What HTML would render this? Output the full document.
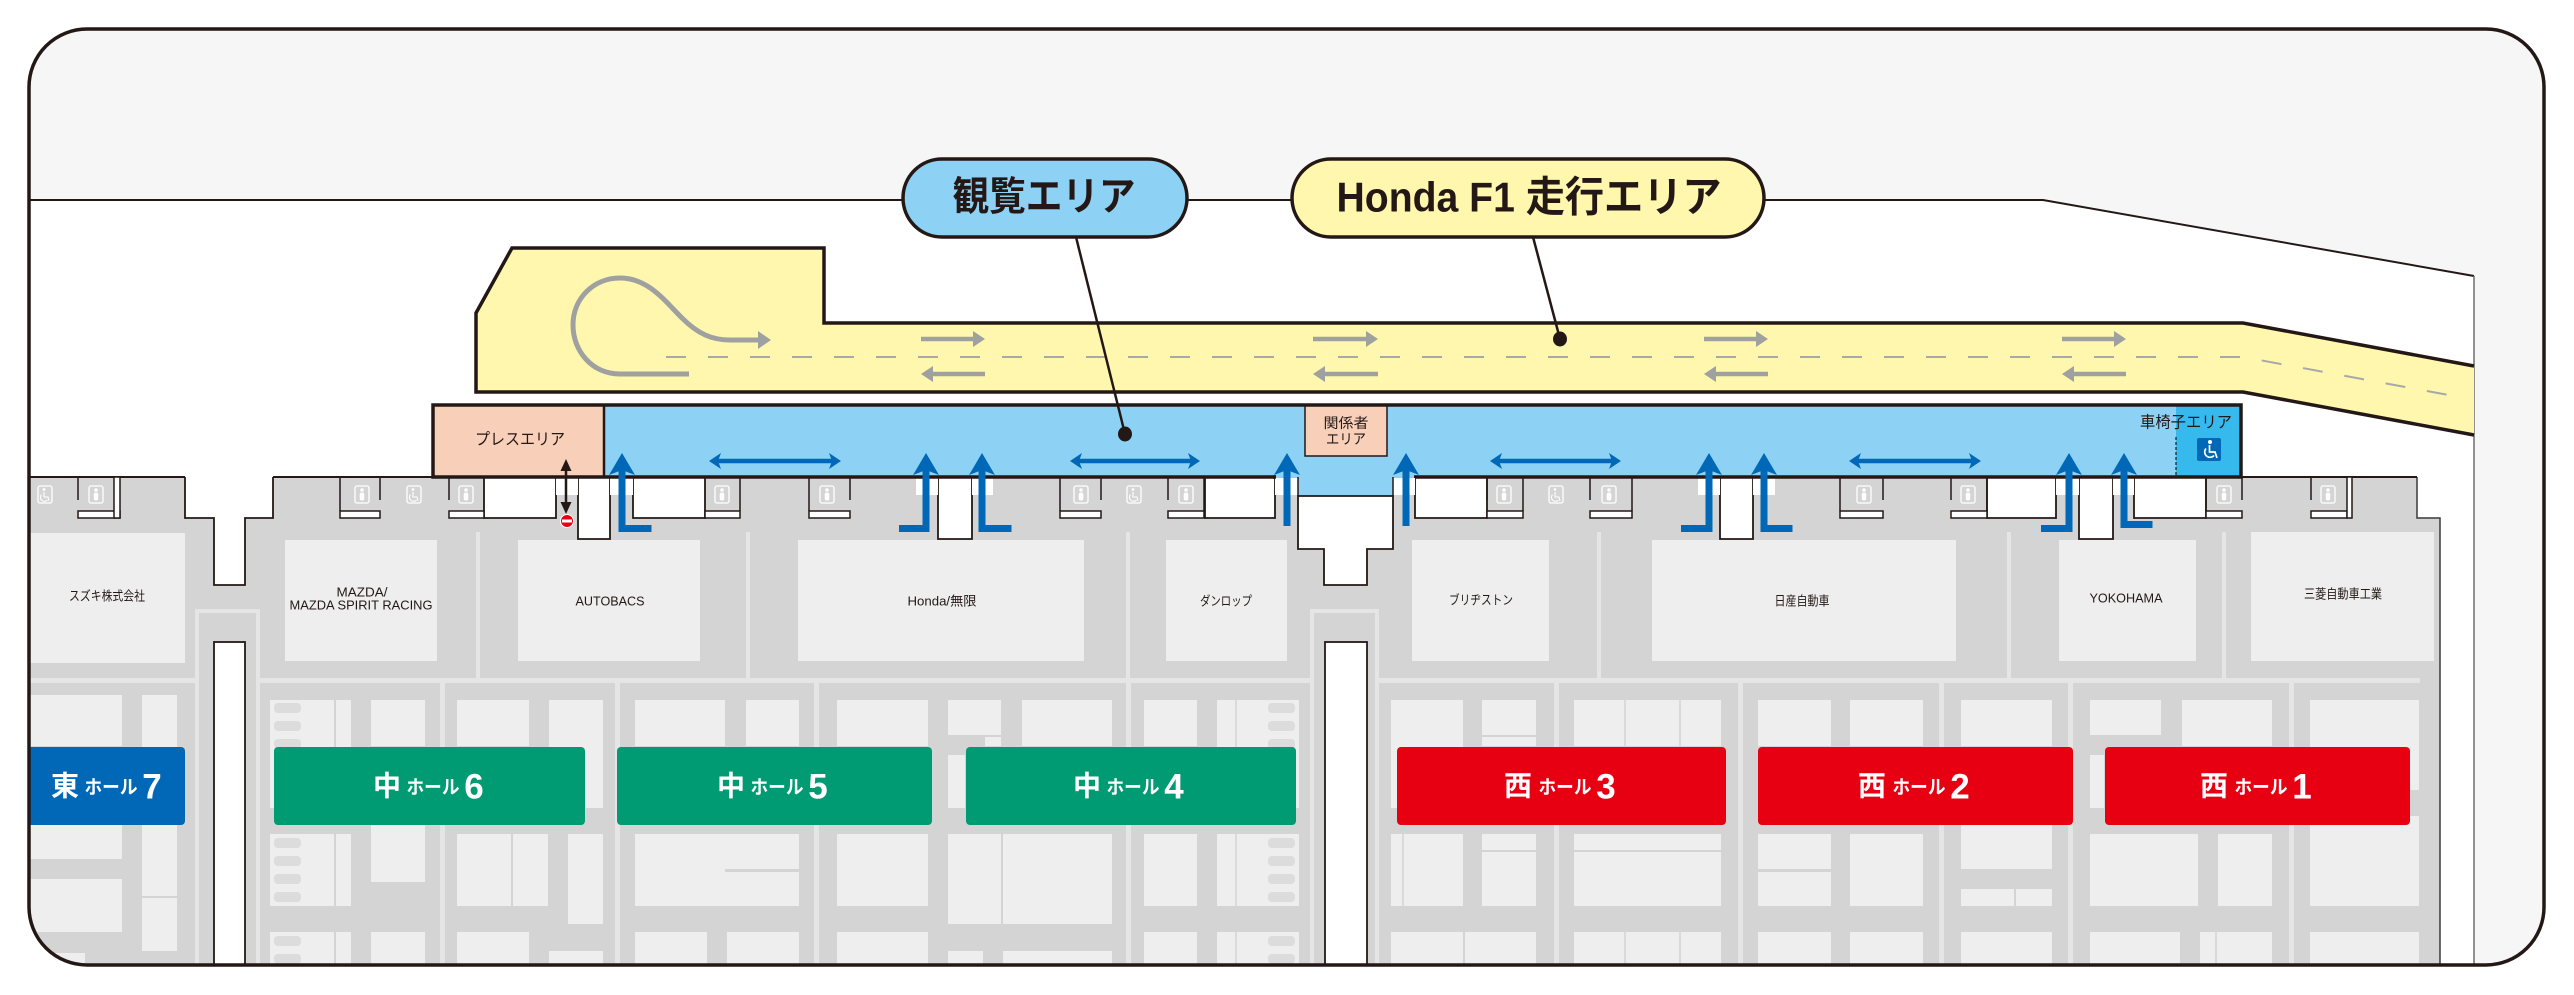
<!DOCTYPE html>
<html><head><meta charset="utf-8">
<style>
html,body{margin:0;padding:0;background:#fff;}
svg{display:block;}
text{font-family:"Liberation Sans","Noto Sans CJK JP",sans-serif;}
</style></head><body>
<svg width="2574" height="995" viewBox="0 0 2574 995" xmlns="http://www.w3.org/2000/svg">
<defs>
<clipPath id="fr"><rect x="29" y="29" width="2515" height="936" rx="58"/></clipPath>
</defs>
<g clip-path="url(#fr)">
<rect x="0" y="0" width="2574" height="995" fill="#f6f6f6"/>
<polygon points="0,200 2043,200 2474,276 2474,995 0,995" fill="#ffffff"/>
<polyline points="0,200 2043,200 2474,276" fill="none" stroke="#231815" stroke-width="2"/>
<line x1="2474" y1="276" x2="2474" y2="965" stroke="#6f6f6f" stroke-width="1.5"/>

<!-- F1 track -->
<polygon points="476,392 476,313 512,248 824,248 824,323 2243,323 2474,366 2474,435 2243,392" fill="#fff7ae"/>
<polyline points="2474,366 2243,323 824,323 824,248 512,248 476,313 476,392 2243,392 2474,435" fill="none" stroke="#231815" stroke-width="3.5" stroke-linejoin="miter"/>
<polyline points="666,357 2243,357 2465,398" fill="none" stroke="#a8a8a8" stroke-width="2" stroke-dasharray="20 22"/>
<g fill="none" stroke="#9fa0a0" stroke-width="5">
<path d="M689,374 L620,374 C592,374 573,351 573,325 C573,298 594,278 620,278 C648,278 664,300 682,318 C698,334 712,340 730,340 L760,340"/>
</g>
<polygon points="771,340 758,331 758,349" fill="#9fa0a0"/>
<g stroke="#9fa0a0" stroke-width="4.5">
<line x1="921" y1="339" x2="975" y2="339"/><line x1="1313" y1="339" x2="1368" y2="339"/>
<line x1="1704" y1="339" x2="1758" y2="339"/><line x1="2062" y1="339" x2="2116" y2="339"/>
<line x1="931" y1="374" x2="985" y2="374"/><line x1="1323" y1="374" x2="1378" y2="374"/>
<line x1="1714" y1="374" x2="1768" y2="374"/><line x1="2072" y1="374" x2="2126" y2="374"/>
</g>
<g fill="#9fa0a0">
<polygon points="985,339 973,331 973,347"/><polygon points="1378,339 1366,331 1366,347"/>
<polygon points="1768,339 1756,331 1756,347"/><polygon points="2126,339 2114,331 2114,347"/>
<polygon points="921,374 933,366 933,382"/><polygon points="1313,374 1325,366 1325,382"/>
<polygon points="1704,374 1716,366 1716,382"/><polygon points="2062,374 2074,366 2074,382"/>
</g>

<!-- Hall gray region -->
<polygon points="0,477 2417,477 2417,518 2440,518 2440,995 0,995" fill="#d4d4d5"/>
<polyline points="2417,477 2417,518 2440,518 2440,965" fill="none" stroke="#3a3a3a" stroke-width="1.5"/>
<g stroke="#231815" stroke-width="2">
<line x1="0" y1="477" x2="185" y2="477"/><line x1="273" y1="477" x2="433" y2="477"/><line x1="2241" y1="477" x2="2417" y2="477"/>
</g>

<!-- upper booths -->
<g fill="#eeeeee">
<rect x="20" y="533" width="165" height="130"/>
<rect x="285" y="540" width="152" height="121"/>
<rect x="518" y="540" width="182" height="121"/>
<rect x="798" y="540" width="286" height="121"/>
<rect x="1166" y="540" width="121" height="121"/>
<rect x="1412" y="540" width="137" height="121"/>
<rect x="1652" y="540" width="304" height="121"/>
<rect x="2059" y="540" width="137" height="121"/>
<rect x="2251" y="532" width="183" height="129"/>
</g>
<g fill="#e5e5e5">
<rect x="476" y="532" width="4" height="150"/><rect x="746" y="532" width="4" height="150"/>
<rect x="1126" y="532" width="4" height="150"/><rect x="1597" y="532" width="4" height="150"/>
<rect x="2007" y="532" width="4" height="150"/><rect x="2222" y="532" width="4" height="150"/>
<rect x="20" y="678" width="2400" height="5"/>
<rect x="440" y="683" width="5" height="290"/><rect x="615" y="683" width="5" height="290"/>
<rect x="814" y="683" width="5" height="290"/><rect x="1126" y="683" width="5" height="290"/>
<rect x="1554" y="683" width="5" height="290"/><rect x="1738" y="683" width="5" height="290"/>
<rect x="1939" y="683" width="5" height="290"/><rect x="2068" y="683" width="5" height="290"/>
<rect x="2289" y="683" width="5" height="290"/>
</g>

<!-- lower booths -->
<g fill="#eeeeee">
<rect x="20" y="695" width="102" height="51"/><rect x="142" y="695" width="35" height="201"/>
<rect x="20" y="825" width="102" height="34"/><rect x="20" y="879" width="102" height="53"/>
<rect x="142" y="898" width="35" height="53"/><rect x="20" y="953" width="65" height="20"/>

<rect x="270" y="700" width="64" height="108"/><rect x="270" y="834" width="64" height="72"/><rect x="270" y="932" width="64" height="40"/>
<rect x="336" y="700" width="15" height="108"/><rect x="336" y="834" width="15" height="72"/><rect x="336" y="932" width="15" height="40"/>
<rect x="371" y="700" width="54" height="46"/><rect x="371" y="825" width="54" height="57"/><rect x="371" y="932" width="54" height="40"/>
<rect x="457" y="700" width="72" height="46"/><rect x="457" y="834" width="54" height="72"/><rect x="513" y="834" width="35" height="72"/><rect x="457" y="932" width="72" height="40"/>
<rect x="549" y="700" width="54" height="108"/><rect x="568" y="834" width="35" height="90"/><rect x="549" y="951" width="54" height="20"/>

<rect x="635" y="700" width="90" height="46"/><rect x="635" y="834" width="90" height="72"/><rect x="635" y="932" width="72" height="40"/>
<rect x="746" y="700" width="53" height="46"/><rect x="709" y="834" width="90" height="35"/><rect x="709" y="872" width="90" height="34"/><rect x="727" y="932" width="72" height="40"/>
<rect x="837" y="700" width="91" height="46"/><rect x="837" y="834" width="91" height="72"/><rect x="837" y="932" width="91" height="40"/>
<rect x="948" y="700" width="53" height="35"/><rect x="985" y="737" width="16" height="9"/><rect x="948" y="755" width="17" height="53"/>
<rect x="948" y="834" width="53" height="90"/><rect x="1003" y="834" width="109" height="90"/>
<rect x="948" y="951" width="35" height="20"/><rect x="1003" y="951" width="109" height="20"/>
<rect x="1022" y="700" width="90" height="46"/>

<rect x="1144" y="700" width="53" height="46"/><rect x="1144" y="834" width="53" height="72"/><rect x="1144" y="932" width="53" height="40"/>
<rect x="1217" y="700" width="82" height="108"/><rect x="1217" y="834" width="82" height="72"/><rect x="1217" y="932" width="82" height="40"/>

<rect x="1391" y="700" width="72" height="108"/><rect x="1482" y="700" width="54" height="35"/><rect x="1482" y="737" width="54" height="9"/>
<rect x="1391" y="834" width="72" height="72"/><rect x="1482" y="834" width="54" height="16"/><rect x="1482" y="852" width="54" height="54"/>
<rect x="1391" y="932" width="72" height="40"/><rect x="1465" y="932" width="71" height="40"/>

<rect x="1574" y="700" width="147" height="46"/><rect x="1574" y="834" width="147" height="16"/><rect x="1574" y="852" width="147" height="54"/><rect x="1574" y="932" width="147" height="40"/>

<rect x="1758" y="700" width="73" height="46"/><rect x="1758" y="834" width="73" height="35"/><rect x="1758" y="872" width="73" height="34"/><rect x="1758" y="932" width="73" height="40"/>
<rect x="1850" y="700" width="73" height="46"/><rect x="1850" y="834" width="73" height="72"/><rect x="1850" y="932" width="73" height="40"/>
<rect x="1961" y="700" width="91" height="46"/><rect x="1961" y="825" width="91" height="44"/><rect x="1961" y="889" width="53" height="17"/><rect x="2016" y="889" width="36" height="17"/><rect x="1961" y="932" width="91" height="40"/>

<rect x="2090" y="700" width="71" height="35"/><rect x="2090" y="755" width="14" height="53"/><rect x="2090" y="834" width="108" height="72"/><rect x="2090" y="932" width="90" height="40"/>
<rect x="2182" y="700" width="90" height="46"/><rect x="2218" y="834" width="54" height="72"/><rect x="2200" y="932" width="72" height="40"/>
<rect x="2310" y="700" width="109" height="90"/><rect x="2310" y="816" width="109" height="90"/><rect x="2310" y="932" width="109" height="40"/>
</g>
<g fill="#dcdcdc">
<rect x="274" y="703" width="27" height="10" rx="4"/><rect x="274" y="721" width="27" height="10" rx="4"/><rect x="274" y="739" width="27" height="10" rx="4"/>
<rect x="274" y="838" width="27" height="10" rx="4"/><rect x="274" y="856" width="27" height="10" rx="4"/><rect x="274" y="874" width="27" height="10" rx="4"/><rect x="274" y="892" width="27" height="10" rx="4"/>
<rect x="274" y="936" width="27" height="10" rx="4"/><rect x="274" y="954" width="27" height="10" rx="4"/>
<rect x="1268" y="703" width="27" height="10" rx="4"/><rect x="1268" y="721" width="27" height="10" rx="4"/><rect x="1268" y="739" width="27" height="10" rx="4"/>
<rect x="1268" y="838" width="27" height="10" rx="4"/><rect x="1268" y="856" width="27" height="10" rx="4"/><rect x="1268" y="874" width="27" height="10" rx="4"/><rect x="1268" y="892" width="27" height="10" rx="4"/>
<rect x="1268" y="936" width="27" height="10" rx="4"/><rect x="1268" y="954" width="27" height="10" rx="4"/>
</g>
<g stroke="#d4d4d5" stroke-width="1.5">
<line x1="1625" y1="700" x2="1625" y2="746"/><line x1="1680" y1="700" x2="1680" y2="746"/>
<line x1="1625" y1="932" x2="1625" y2="972"/><line x1="1680" y1="932" x2="1680" y2="972"/>
<line x1="1403" y1="834" x2="1403" y2="906"/><line x1="1236" y1="700" x2="1236" y2="972"/>
<line x1="2216" y1="932" x2="2216" y2="972"/>
</g>

<!-- corridors -->
<rect x="197" y="611" width="61" height="370" fill="#d4d4d5" stroke="#e5e5e5" stroke-width="4"/>
<rect x="214" y="642" width="31" height="340" fill="#ffffff" stroke="#231815" stroke-width="1.8"/>
<rect x="1312" y="611" width="65" height="370" fill="#d4d4d5" stroke="#e5e5e5" stroke-width="4"/>
<rect x="1325" y="642" width="42" height="340" fill="#ffffff" stroke="#231815" stroke-width="1.8"/>

<!-- facade white openings -->
<g fill="#ffffff" stroke="#231815" stroke-width="1.8">
<polyline points="185,477 185,518 214,518 214,585 245,585 245,518 273,518 273,477"/>
<polyline points="484,477 484,518 556,518 556,477"/>
<polyline points="578,477 578,539 610,539 610,477"/>
<polyline points="633,477 633,518 705,518 705,477"/>
<polyline points="938,477 938,539 972,539 972,477"/>
<polyline points="1205,477 1205,518 1275,518 1275,477"/>
<polyline points="1415,477 1415,518 1487,518 1487,477"/>
<polyline points="1720,477 1720,539 1753,539 1753,477"/>
<polyline points="1987,477 1987,518 2056,518 2056,477"/>
<polyline points="2079,477 2079,539 2113,539 2113,477"/>
<polyline points="2134,477 2134,518 2206,518 2206,477"/>
</g>
<g fill="#ffffff">
<rect x="556" y="478" width="22" height="17"/><rect x="610" y="478" width="23" height="17"/>
<rect x="916" y="478" width="22" height="17"/><rect x="972" y="478" width="21" height="17"/>
<rect x="1275" y="478" width="23" height="17"/><rect x="1393" y="478" width="22" height="17"/>
<rect x="1698" y="478" width="22" height="17"/><rect x="1753" y="478" width="22" height="17"/>
<rect x="2056" y="478" width="23" height="17"/><rect x="2113" y="478" width="21" height="17"/>
</g>
<!-- toilets strips -->
<g fill="#ffffff" stroke="#231815" stroke-width="1.5">
<rect x="78" y="511" width="42" height="7"/><rect x="340" y="511" width="40" height="7"/>
<rect x="449" y="511" width="35" height="7"/><rect x="705" y="511" width="35" height="7"/>
<rect x="809" y="511" width="41" height="7"/><rect x="1060" y="511" width="41" height="7"/>
<rect x="1168" y="511" width="36" height="7"/><rect x="1487" y="511" width="36" height="7"/>
<rect x="1590" y="511" width="42" height="7"/><rect x="1840" y="511" width="43" height="7"/>
<rect x="1951" y="511" width="36" height="7"/><rect x="2206" y="511" width="36" height="7"/>
<rect x="2311" y="511" width="36" height="7"/>
<rect x="114" y="477" width="6" height="41"/><rect x="2347" y="477" width="5" height="41"/>
</g>
<g stroke="#231815" stroke-width="1.5">
<line x1="78" y1="477" x2="78" y2="500"/><line x1="340" y1="477" x2="340" y2="511"/><line x1="380" y1="477" x2="380" y2="500"/>
<line x1="449" y1="477" x2="449" y2="500"/><line x1="740" y1="477" x2="740" y2="511"/>
<line x1="809" y1="477" x2="809" y2="511"/><line x1="850" y1="477" x2="850" y2="500"/>
<line x1="1060" y1="477" x2="1060" y2="511"/><line x1="1101" y1="477" x2="1101" y2="500"/>
<line x1="1168" y1="477" x2="1168" y2="500"/><line x1="1204" y1="477" x2="1204" y2="511"/>
<line x1="1487" y1="477" x2="1487" y2="500"/><line x1="1523" y1="477" x2="1523" y2="511"/>
<line x1="1590" y1="477" x2="1590" y2="500"/><line x1="1632" y1="477" x2="1632" y2="511"/>
<line x1="1840" y1="477" x2="1840" y2="511"/><line x1="1883" y1="477" x2="1883" y2="500"/>
<line x1="1951" y1="477" x2="1951" y2="500"/><line x1="1987" y1="477" x2="1987" y2="511"/>
<line x1="2206" y1="477" x2="2206" y2="511"/><line x1="2242" y1="477" x2="2242" y2="500"/>
<line x1="2311" y1="477" x2="2311" y2="500"/>
</g>
<!-- toilet icons -->
<g fill="none" stroke="#ffffff" stroke-width="1.3">
<rect x="89" y="486" width="14" height="17" rx="2"/><rect x="355" y="486" width="14" height="17" rx="2"/>
<rect x="459" y="486" width="14" height="17" rx="2"/><rect x="715" y="486" width="14" height="17" rx="2"/>
<rect x="820" y="486" width="14" height="17" rx="2"/><rect x="1074" y="486" width="14" height="17" rx="2"/>
<rect x="1179" y="486" width="14" height="17" rx="2"/><rect x="1497" y="486" width="14" height="17" rx="2"/>
<rect x="1602" y="486" width="14" height="17" rx="2"/><rect x="1857" y="486" width="14" height="17" rx="2"/>
<rect x="1961" y="486" width="14" height="17" rx="2"/><rect x="2217" y="486" width="14" height="17" rx="2"/>
<rect x="2321" y="486" width="14" height="17" rx="2"/>
<rect x="38" y="486" width="14" height="17" rx="2"/><rect x="407" y="486" width="14" height="17" rx="2"/>
<rect x="1127" y="486" width="14" height="17" rx="2"/><rect x="1549" y="486" width="14" height="17" rx="2"/>
</g>
<g fill="#ffffff">
<circle cx="96" cy="490" r="1.8"/><rect x="93.7" y="492.5" width="4.6" height="8" rx="2"/>
<circle cx="362" cy="490" r="1.8"/><rect x="359.7" y="492.5" width="4.6" height="8" rx="2"/>
<circle cx="466" cy="490" r="1.8"/><rect x="463.7" y="492.5" width="4.6" height="8" rx="2"/>
<circle cx="722" cy="490" r="1.8"/><rect x="719.7" y="492.5" width="4.6" height="8" rx="2"/>
<circle cx="827" cy="490" r="1.8"/><rect x="824.7" y="492.5" width="4.6" height="8" rx="2"/>
<circle cx="1081" cy="490" r="1.8"/><rect x="1078.7" y="492.5" width="4.6" height="8" rx="2"/>
<circle cx="1186" cy="490" r="1.8"/><rect x="1183.7" y="492.5" width="4.6" height="8" rx="2"/>
<circle cx="1504" cy="490" r="1.8"/><rect x="1501.7" y="492.5" width="4.6" height="8" rx="2"/>
<circle cx="1609" cy="490" r="1.8"/><rect x="1606.7" y="492.5" width="4.6" height="8" rx="2"/>
<circle cx="1864" cy="490" r="1.8"/><rect x="1861.7" y="492.5" width="4.6" height="8" rx="2"/>
<circle cx="1968" cy="490" r="1.8"/><rect x="1965.7" y="492.5" width="4.6" height="8" rx="2"/>
<circle cx="2224" cy="490" r="1.8"/><rect x="2221.7" y="492.5" width="4.6" height="8" rx="2"/>
<circle cx="2328" cy="490" r="1.8"/><rect x="2325.7" y="492.5" width="4.6" height="8" rx="2"/>
<circle cx="44" cy="489.5" r="1.4"/><circle cx="413" cy="489.5" r="1.4"/><circle cx="1133" cy="489.5" r="1.4"/><circle cx="1555" cy="489.5" r="1.4"/>
</g>
<g fill="none" stroke="#ffffff" stroke-width="1.1">
<path d="M44,492 L44,497 L48,497 L49,501 M41.5,494.5 A3.6,3.6 0 1 0 47.5,500"/>
<path d="M413,492 L413,497 L417,497 L418,501 M410.5,494.5 A3.6,3.6 0 1 0 416.5,500"/>
<path d="M1133,492 L1133,497 L1137,497 L1138,501 M1130.5,494.5 A3.6,3.6 0 1 0 1136.5,500"/>
<path d="M1555,492 L1555,497 L1559,497 L1560,501 M1552.5,494.5 A3.6,3.6 0 1 0 1558.5,500"/>
</g>

<!-- viewing area -->
<rect x="433" y="405" width="1808" height="72" fill="#8dd1f4"/>
<rect x="433" y="405" width="171" height="72" fill="#f8cfb8"/>
<rect x="2176" y="405" width="65" height="72" fill="#36b9ec"/>
<rect x="433" y="405" width="1808" height="72" fill="none" stroke="#231815" stroke-width="3.5"/>
<line x1="604" y1="405" x2="604" y2="477" stroke="#231815" stroke-width="2.5"/>
<line x1="2176" y1="437" x2="2176" y2="476" stroke="#231815" stroke-width="1.2" stroke-dasharray="3 2"/>
<!-- notch -->
<rect x="1276" y="475" width="138" height="5" fill="#8dd1f4"/>
<rect x="1275" y="478" width="23" height="17" fill="#ffffff"/><rect x="1393" y="478" width="22" height="17" fill="#ffffff"/>
<rect x="1298" y="475" width="95" height="21" fill="#8dd1f4"/>
<polygon points="1298,496 1393,496 1393,549 1367,549 1367,585 1324,585 1324,549 1298,549" fill="#ffffff" stroke="#231815" stroke-width="1.8"/>
<line x1="1298" y1="477" x2="1298" y2="496" stroke="#231815" stroke-width="1.5"/>
<line x1="1393" y1="477" x2="1393" y2="496" stroke="#231815" stroke-width="1.5"/>
<line x1="1273" y1="477" x2="1276" y2="477" stroke="#231815" stroke-width="3.5"/>

<rect x="1305" y="406" width="82" height="50" fill="#f8cfb8" stroke="#231815" stroke-width="1.5"/>
<text x="1346" y="423" font-size="14" text-anchor="middle" dominant-baseline="central" fill="#231815" textLength="45" lengthAdjust="spacingAndGlyphs">関係者</text>
<text x="1346" y="439" font-size="14" text-anchor="middle" dominant-baseline="central" fill="#231815" textLength="40" lengthAdjust="spacingAndGlyphs">エリア</text>
<text x="520" y="440" font-size="16" text-anchor="middle" dominant-baseline="central" fill="#231815" textLength="90" lengthAdjust="spacingAndGlyphs">プレスエリア</text>
<text x="2186" y="423" font-size="16" text-anchor="middle" dominant-baseline="central" fill="#231815" textLength="92" lengthAdjust="spacingAndGlyphs">車椅子エリア</text>
<rect x="2197" y="438" width="24" height="23" rx="2" fill="#0068b7"/>
<circle cx="2210" cy="442" r="2" fill="#ffffff"/>
<path d="M2209.5,445 L2209.5,452 L2215,452 L2217,458 M2206,448.5 A5,5 0 1 0 2214,455.5" fill="none" stroke="#ffffff" stroke-width="1.7"/>

<!-- blue double arrows -->
<g stroke="#0068b7" stroke-width="4.5">
<line x1="717" y1="461" x2="833" y2="461"/><line x1="1078" y1="461" x2="1192" y2="461"/>
<line x1="1498" y1="461" x2="1613" y2="461"/><line x1="1857" y1="461" x2="1973" y2="461"/>
</g>
<g fill="#0068b7">
<polygon points="709,461 721,453 718,461 721,469"/><polygon points="841,461 829,453 832,461 829,469"/>
<polygon points="1070,461 1082,453 1079,461 1082,469"/><polygon points="1200,461 1188,453 1191,461 1188,469"/>
<polygon points="1490,461 1502,453 1499,461 1502,469"/><polygon points="1621,461 1609,453 1612,461 1609,469"/>
<polygon points="1849,461 1861,453 1858,461 1861,469"/><polygon points="1981,461 1969,453 1972,461 1969,469"/>
</g>

<!-- blue up arrows -->
<g fill="#0068b7">
<rect x="618.5" y="466" width="7" height="66"/><rect x="618.5" y="525" width="33" height="7"/><polygon points="622,453 635,475 622,470 609,475"/>
<rect x="922.5" y="466" width="7" height="66"/><rect x="899" y="525" width="30" height="7"/><polygon points="926,453 939,475 926,470 913,475"/>
<rect x="978.5" y="466" width="7" height="66"/><rect x="978.5" y="525" width="33" height="7"/><polygon points="982,453 995,475 982,470 969,475"/>
<rect x="1283.5" y="466" width="7" height="60"/><polygon points="1287,453 1300,475 1287,470 1274,475"/>
<rect x="1402.5" y="466" width="7" height="60"/><polygon points="1406,453 1419,475 1406,470 1393,475"/>
<rect x="1705.5" y="466" width="7" height="66"/><rect x="1681" y="525" width="30" height="7"/><polygon points="1709,453 1722,475 1709,470 1696,475"/>
<rect x="1760.5" y="466" width="7" height="66"/><rect x="1760.5" y="525" width="32" height="7"/><polygon points="1764,453 1777,475 1764,470 1751,475"/>
<rect x="2065.5" y="466" width="7" height="66"/><rect x="2041" y="525" width="30" height="7"/><polygon points="2069,453 2082,475 2069,470 2056,475"/>
<rect x="2120.5" y="466" width="7" height="62"/><rect x="2120.5" y="521" width="32" height="7"/><polygon points="2124,453 2137,475 2124,470 2111,475"/>
</g>

<!-- press black arrow + no entry -->
<line x1="566" y1="468" x2="566" y2="505" stroke="#231815" stroke-width="2.5"/>
<polygon points="566,459 560.5,471 571.5,471" fill="#231815"/>
<polygon points="566,514 560.5,502 571.5,502" fill="#231815"/>
<circle cx="567" cy="521" r="6.5" fill="#e60012" stroke="#ffffff" stroke-width="1"/>
<rect x="562" y="519.5" width="10" height="3" fill="#ffffff"/>

<!-- hall banners -->
<rect x="15" y="747" width="170" height="78" rx="4" fill="#0068b7"/>
<rect x="274" y="747" width="311" height="78" rx="4" fill="#009b72"/>
<rect x="617" y="747" width="315" height="78" rx="4" fill="#009b72"/>
<rect x="966" y="747" width="330" height="78" rx="4" fill="#009b72"/>
<rect x="1397" y="747" width="329" height="78" rx="4" fill="#e60012"/>
<rect x="1758" y="747" width="315" height="78" rx="4" fill="#e60012"/>
<rect x="2105" y="747" width="305" height="78" rx="4" fill="#e60012"/>
<g fill="#ffffff" font-weight="bold" text-anchor="middle" dominant-baseline="central">
<text x="65" y="786" font-size="28">東</text><text x="111" y="788" font-size="19" textLength="53" lengthAdjust="spacingAndGlyphs">ホール</text><text x="152" y="787" font-size="35">7</text>
<text x="387" y="786" font-size="28">中</text><text x="433" y="788" font-size="19" textLength="53" lengthAdjust="spacingAndGlyphs">ホール</text><text x="474" y="787" font-size="35">6</text>
<text x="731" y="786" font-size="28">中</text><text x="777" y="788" font-size="19" textLength="53" lengthAdjust="spacingAndGlyphs">ホール</text><text x="818" y="787" font-size="35">5</text>
<text x="1087" y="786" font-size="28">中</text><text x="1133" y="788" font-size="19" textLength="53" lengthAdjust="spacingAndGlyphs">ホール</text><text x="1174" y="787" font-size="35">4</text>
<text x="1518" y="786" font-size="28">西</text><text x="1565" y="788" font-size="19" textLength="53" lengthAdjust="spacingAndGlyphs">ホール</text><text x="1606" y="787" font-size="35">3</text>
<text x="1872" y="786" font-size="28">西</text><text x="1919" y="788" font-size="19" textLength="53" lengthAdjust="spacingAndGlyphs">ホール</text><text x="1960" y="787" font-size="35">2</text>
<text x="2214" y="786" font-size="28">西</text><text x="2261" y="788" font-size="19" textLength="53" lengthAdjust="spacingAndGlyphs">ホール</text><text x="2302" y="787" font-size="35">1</text>
</g>

<!-- booth labels -->
<g fill="#231815" font-size="13" text-anchor="middle" dominant-baseline="central">
<text x="107" y="596" textLength="76" lengthAdjust="spacingAndGlyphs">スズキ株式会社</text>
<text x="362" y="592" textLength="51" lengthAdjust="spacingAndGlyphs">MAZDA/</text>
<text x="361" y="605" textLength="143" lengthAdjust="spacingAndGlyphs">MAZDA SPIRIT RACING</text>
<text x="610" y="601" textLength="69" lengthAdjust="spacingAndGlyphs">AUTOBACS</text>
<text x="942" y="601" textLength="69" lengthAdjust="spacingAndGlyphs">Honda/無限</text>
<text x="1226" y="601" textLength="52" lengthAdjust="spacingAndGlyphs">ダンロップ</text>
<text x="1481" y="600" textLength="64" lengthAdjust="spacingAndGlyphs">ブリヂストン</text>
<text x="1802" y="601" textLength="55" lengthAdjust="spacingAndGlyphs">日産自動車</text>
<text x="2126" y="598" textLength="73" lengthAdjust="spacingAndGlyphs">YOKOHAMA</text>
<text x="2343" y="594" textLength="78" lengthAdjust="spacingAndGlyphs">三菱自動車工業</text>
</g>

<!-- leaders -->
<g stroke="#231815" stroke-width="2.5">
<line x1="1076" y1="237" x2="1125" y2="434"/>
<line x1="1533" y1="237" x2="1560" y2="339"/>
</g>
<ellipse cx="1125" cy="434" rx="7" ry="7.5" fill="#231815"/>
<ellipse cx="1560" cy="339" rx="7" ry="7.5" fill="#231815"/>

<!-- bubbles -->
<rect x="903" y="159" width="284" height="78" rx="39" fill="#8dd1f4" stroke="#231815" stroke-width="3.5"/>
<text x="1044" y="197" font-size="40" font-weight="bold" text-anchor="middle" dominant-baseline="central" fill="#231815" textLength="183" lengthAdjust="spacingAndGlyphs">観覧エリア</text>
<rect x="1292" y="159" width="472" height="78" rx="39" fill="#fff7ae" stroke="#231815" stroke-width="3.5"/>
<text x="1529" y="197" font-size="42" font-weight="bold" text-anchor="middle" dominant-baseline="central" fill="#231815" textLength="385" lengthAdjust="spacingAndGlyphs">Honda F1 走行エリア</text>
</g>
<rect x="29" y="29" width="2515" height="936" rx="58" fill="none" stroke="#231815" stroke-width="3.5"/>
</svg>
</body></html>
